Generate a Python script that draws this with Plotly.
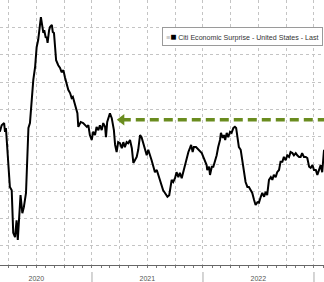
import plotly.graph_objects as go

# ---- data ----
DATES = [
    "2020-03-04", "2020-03-10", "2020-03-18", "2020-03-21", "2020-03-24", "2020-03-27", "2020-03-29",
    "2020-04-01", "2020-04-06", "2020-04-12", "2020-04-15", "2020-04-17", "2020-04-23", "2020-04-28",
    "2020-05-02", "2020-05-07", "2020-05-11", "2020-05-17", "2020-05-22", "2020-05-29", "2020-06-02",
    "2020-06-06", "2020-06-11", "2020-06-17", "2020-06-22", "2020-06-28", "2020-07-03", "2020-07-08",
    "2020-07-12", "2020-07-17", "2020-07-22", "2020-07-25", "2020-07-28", "2020-08-02", "2020-08-05",
    "2020-08-08", "2020-08-13", "2020-08-16", "2020-08-22", "2020-08-25", "2020-08-29", "2020-09-01",
    "2020-09-05", "2020-09-12", "2020-09-18", "2020-09-23", "2020-09-29", "2020-10-04", "2020-10-10",
    "2020-10-15", "2020-10-21", "2020-10-26", "2020-10-30", "2020-11-03", "2020-11-09", "2020-11-14",
    "2020-11-17", "2020-11-25", "2020-12-03", "2020-12-09", "2020-12-15", "2020-12-20", "2020-12-25",
    "2020-12-31",
    "2021-01-05", "2021-01-11", "2021-01-16", "2021-01-22", "2021-01-27", "2021-02-02", "2021-02-07",
    "2021-02-13", "2021-02-16", "2021-02-20", "2021-02-26", "2021-03-01", "2021-03-07", "2021-03-10",
    "2021-03-14", "2021-03-18", "2021-03-23", "2021-03-28", "2021-04-03", "2021-04-09", "2021-04-14",
    "2021-04-19", "2021-04-25", "2021-04-30", "2021-05-06", "2021-05-12", "2021-05-17", "2021-05-22",
    "2021-05-28", "2021-06-02", "2021-06-08", "2021-06-13", "2021-06-19", "2021-06-24", "2021-06-30",
    "2021-07-05", "2021-07-11", "2021-07-16", "2021-07-22", "2021-07-27", "2021-08-02", "2021-08-07",
    "2021-08-13", "2021-08-18", "2021-08-23", "2021-08-29", "2021-09-06", "2021-09-12", "2021-09-17",
    "2021-09-20", "2021-09-25", "2021-10-01", "2021-10-06", "2021-10-12", "2021-10-17", "2021-10-23",
    "2021-10-28", "2021-11-03", "2021-11-08", "2021-11-14", "2021-11-19", "2021-11-23", "2021-11-28",
    "2021-12-02", "2021-12-09", "2021-12-17", "2021-12-22", "2021-12-28",
    "2022-01-02", "2022-01-08", "2022-01-13", "2022-01-15", "2022-01-21", "2022-01-24", "2022-01-30",
    "2022-02-04", "2022-02-09", "2022-02-15", "2022-02-20", "2022-02-26", "2022-03-01", "2022-03-07",
    "2022-03-11", "2022-03-15", "2022-03-20", "2022-03-25", "2022-03-31", "2022-04-05", "2022-04-11",
    "2022-04-16", "2022-04-20", "2022-04-24", "2022-04-27", "2022-04-29", "2022-05-05", "2022-05-10",
    "2022-05-16", "2022-05-21", "2022-05-27", "2022-06-01", "2022-06-07", "2022-06-12", "2022-06-18",
    "2022-06-23", "2022-06-29", "2022-07-04", "2022-07-10", "2022-07-15", "2022-07-21", "2022-07-26",
    "2022-07-31", "2022-08-06", "2022-08-12", "2022-08-17", "2022-08-22", "2022-08-28", "2022-09-02",
    "2022-09-08", "2022-09-13", "2022-09-19", "2022-09-24", "2022-09-30", "2022-10-05", "2022-10-11",
    "2022-10-16", "2022-10-22", "2022-10-27", "2022-11-02", "2022-11-07", "2022-11-13", "2022-11-18",
    "2022-11-23", "2022-11-29", "2022-12-05", "2022-12-10", "2022-12-16", "2022-12-21", "2022-12-27",
    "2023-01-01", "2023-01-07", "2023-01-12", "2023-01-17", "2023-01-23", "2023-01-28", "2023-02-01",
    "2023-02-03",
]
SURPRISE = [
    59, 71, 75, 59, 66, 44, 26,
    2, -42, -48, -84, -126, -134, -103,
    -139, -103, -57, -90, -79, -53, 7,
    66, 75, 117, 154, 178, 214, 227,
    251, 269, 251, 240, 245, 231, 233,
    222, 245, 251, 255, 242, 240, 214,
    190, 181, 176, 168, 172, 159, 148,
    136, 130, 121, 123, 114, 104, 93,
    68, 77, 75, 71, 68, 71, 53,
    44,
    59, 53, 68, 62, 71, 62, 75,
    68, 49, 77, 86, 93, 84, 77,
    62, 35, 22, 40, 38, 29, 40,
    31, 40, 38, 44, 29, 2, 7,
    13, 26, 53, 49, 38, 26, 16,
    26, 13, 7, -5, -15, -11, -20,
    -33, -42, -48, -53, -60, -57, -35,
    -29, -33, -26, -15, -24, -16, -26,
    -15, -2, 13, 22, 29, 35, 22,
    31, 31, 26, 22, 20,
    13, 4, -2, -11, -5, -20, -5,
    -5, 4, 16, 31, 44, 57, 48,
    53, 44, 57, 49, 59, 57, 66,
    68, 66, 49, 38, 31, 26, 7,
    -11, -33, -42, -42, -48, -53, -66,
    -75, -70, -71, -60, -53, -60, -51,
    -57, -29, -24, -29, -20, -24, -15,
    -11, 4, 4, 13, 7, 16, 13,
    22, 20, 16, 20, 16, 13, 13,
    20, 13, 13, 11, -5, -7, -2,
    -11, -11, -20, -11, -2, -15, 20,
    26,
]
SERIES_NAME = "Citi Economic Surprise - United States - Last"
YEAR_LABELS = ["2020", "2021", "2022"]
YEAR_LABEL_DATES = ["2020-07-02", "2021-07-02", "2022-07-02"]
YEAR_STARTS = ["2021-01-01", "2022-01-01", "2023-01-01"]
ARROW_LEVEL = 81
ARROW_START = "2021-04-09"
ARROW_END = "2023-03-01"

X_RANGE = ["2020-03-04 12:00", "2023-02-02 22:00"]
Y_RANGE = [-185.0, 300.4]

W, H = 324, 282
PLOT_H = 265

fig = go.Figure()

# invisible helper traces so the overlay axes are drawn
fig.add_trace(go.Scatter(x=X_RANGE, y=[0, 0], xaxis="x2", mode="lines",
                         line=dict(width=0), opacity=0, hoverinfo="skip", showlegend=False))
fig.add_trace(go.Scatter(x=X_RANGE, y=[0, 0], xaxis="x3", mode="lines",
                         line=dict(width=0), opacity=0, hoverinfo="skip", showlegend=False))

fig.add_trace(go.Scatter(
    x=DATES, y=SURPRISE, mode="lines", name=SERIES_NAME,
    line=dict(color="#000000", width=2), showlegend=False,
))

# green dashed arrow
fig.add_trace(go.Scatter(
    x=[ARROW_START, ARROW_END], y=[ARROW_LEVEL, ARROW_LEVEL], mode="lines",
    line=dict(color="#6a8c1f", width=3.5, dash="9px,5px"), showlegend=False, hoverinfo="skip",
))
fig.add_trace(go.Scatter(
    x=[ARROW_START], y=[ARROW_LEVEL], mode="markers",
    marker=dict(symbol="triangle-left", size=10, color="#6a8c1f", line=dict(width=0)),
    showlegend=False, hoverinfo="skip",
))

grid = "#c4c4c4"
fig.update_layout(
    width=W, height=H,
    margin=dict(l=0, r=0, t=0, b=H - PLOT_H, pad=0),
    paper_bgcolor="white", plot_bgcolor="white",
    showlegend=False,
    xaxis=dict(
        type="date", range=X_RANGE, showgrid=False, zeroline=False,
        tickmode="linear", tick0="2020-01-01", dtick="M1",
        ticks="outside", ticklen=2, tickwidth=1, tickcolor="#777",
        showticklabels=False, showline=True, linecolor="#666", linewidth=1,
    ),
    xaxis2=dict(
        type="date", range=X_RANGE, overlaying="x", anchor="y", side="bottom",
        tickmode="linear", tick0="2020-01-01", dtick="M3",
        showgrid=True, gridcolor=grid, griddash="dot", gridwidth=1,
        ticks="", showticklabels=False, zeroline=False, showline=False,
    ),
    xaxis3=dict(
        type="date", range=X_RANGE, overlaying="x", anchor="y", side="bottom",
        tickmode="array", tickvals=YEAR_LABEL_DATES, ticktext=YEAR_LABELS,
        ticks="outside", ticklen=7, tickcolor="rgba(0,0,0,0)",
        showgrid=False, zeroline=False, showline=False,
        tickfont=dict(family="Liberation Sans", size=7, color="#555"),
    ),
    yaxis=dict(
        range=Y_RANGE, tickmode="linear", tick0=0, dtick=50,
        showgrid=True, gridcolor=grid, griddash="dot", gridwidth=1,
        showticklabels=False, zeroline=False, ticks="",
    ),
)

# year separators below the axis
for d in YEAR_STARTS:
    fig.add_shape(type="line", xref="x", yref="paper", x0=d, x1=d,
                  y0=-7 / PLOT_H, y1=-(H - PLOT_H) / PLOT_H,
                  line=dict(color="#aaaaaa", width=1))

# legend box
fig.add_annotation(
    xref="paper", yref="paper", x=162 / W, y=(PLOT_H - 37) / PLOT_H,
    xanchor="left", yanchor="middle", showarrow=False, align="left",
    text=("<span style='color:#aaaaaa'>≡</span>"
          "<span style='color:#000000;font-size:10px'>■</span> " + SERIES_NAME),
    font=dict(family="Liberation Sans", size=7.1, color="#333333"),
    bordercolor="#9a9a9a", borderwidth=1, borderpad=3, bgcolor="white",
)

fig.write_html("out.html")
